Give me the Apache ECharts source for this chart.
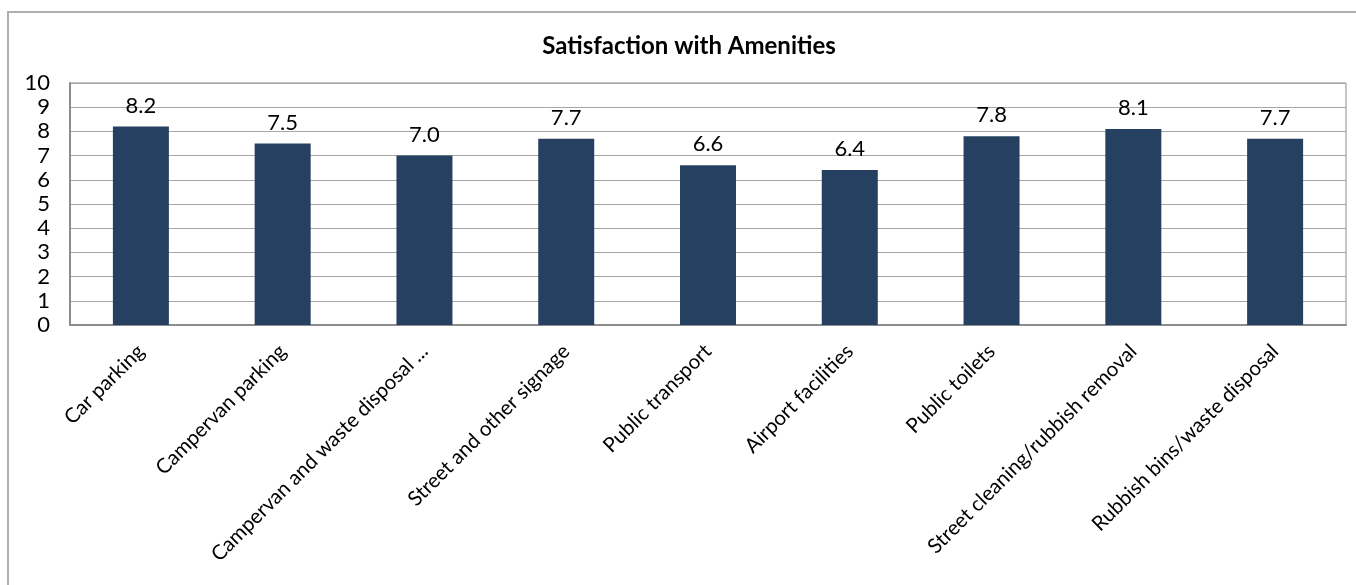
<!DOCTYPE html>
<html>
<head>
<meta charset="utf-8">
<script src="https://cdn.jsdelivr.net/npm/echarts@6/dist/echarts.min.js"></script>
<style>
  html, body { margin: 0; padding: 0; background: #fff; }
  #chart { width: 1356px; height: 585px; }
</style>
</head>
<body>
<div id="chart"></div>
<script>
// Amenity categories and mean satisfaction scores (0–10 scale)
const categories = [
  "Car parking",
  "Campervan parking",
  "Campervan and waste disposal ...",
  "Street and other signage",
  "Public transport",
  "Airport facilities",
  "Public toilets",
  "Street cleaning/rubbish removal",
  "Rubbish bins/waste disposal"
];
const scores = [8.2, 7.5, 7.0, 7.7, 6.6, 6.4, 7.8, 8.1, 7.7];
const yTicks = [0, 1, 2, 3, 4, 5, 6, 7, 8, 9, 10];

const FONT = "Lato, 'Open Sans', sans-serif";
const chart = echarts.init(document.getElementById("chart"), null, { renderer: "canvas" });

chart.setOption({
  animation: false,
  backgroundColor: "#ffffff",
  textStyle: { fontFamily: FONT },
  title: {
    text: "Satisfaction with Amenities",
    left: 684,
    textAlign: "center",
    top: 29,
    textStyle: { fontFamily: FONT, fontSize: 24, fontWeight: "bold", color: "#000" }
  },
  graphic: [{
    type: "rect",
    silent: true,
    shape: { x: 8, y: 12, width: 1400, height: 620 },
    style: { fill: "none", stroke: "#b0b0b0", lineWidth: 2 }
  }],
  grid: { left: 70, right: 10, top: 83, bottom: 260, show: true, borderColor: "#8c8c8c", borderWidth: 1 },
  xAxis: {
    type: "category",
    data: categories,
    axisLine: { show: true, lineStyle: { color: "#8c8c8c", width: 2 } },
    axisTick: { show: false },
    axisLabel: {
      interval: 0,
      rotate: 45,
      margin: 23,
      fontFamily: FONT,
      fontSize: 20.5,
      color: "#000"
    }
  },
  yAxis: {
    type: "value",
    min: yTicks[0],
    max: yTicks[yTicks.length - 1],
    interval: 1,
    axisLine: { show: true, lineStyle: { color: "#8c8c8c", width: 2 } },
    axisTick: { show: false },
    axisLabel: { margin: 20, fontFamily: FONT, fontSize: 22, color: "#000" },
    splitLine: { show: true, lineStyle: { color: "#a6a6a6", width: 1 } }
  },
  series: [{
    type: "bar",
    data: scores,
    barWidth: "39.5%",
    itemStyle: { color: "#264061" },
    label: {
      show: true,
      position: "top",
      distance: 10,
      formatter: p => p.value.toFixed(1),
      fontFamily: FONT,
      fontSize: 22,
      color: "#000"
    }
  }]
});
</script>
</body>
</html>
